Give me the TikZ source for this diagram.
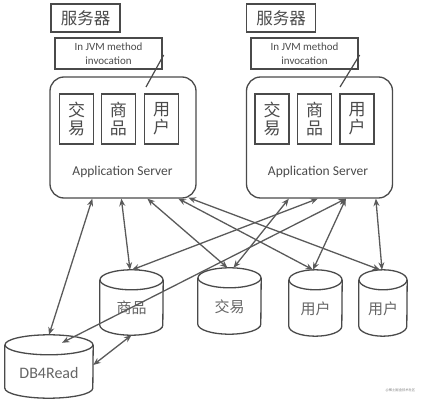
\documentclass[tikz,border=0pt]{standalone}
\usepackage{fontspec}
\setmainfont{Carlito}
\newfontfamily\cjk{Noto Sans CJK SC}
\usetikzlibrary{arrows.meta,calc}
\definecolor{ink}{HTML}{4A4A4A}
\definecolor{arr}{HTML}{5A5A5A}
\newcommand\cylout[3]{% name, rx, ry
  \draw[cylline] ($(#1.north west)+(0,-#3)$) -- ($(#1.south west)+(0,#3)$)
    arc[start angle=180,end angle=360,x radius=#2,y radius=#3]
    -- ($(#1.north east)+(0,-#3)$);
  \draw[cylline] ($(#1.north)+(0,-#3)$) ellipse[x radius=#2,y radius=#3];}
\newcommand\low[2]{\raisebox{#1}[0pt][0pt]{#2}}
\begin{document}
\begin{tikzpicture}[x=1pt,y=1pt,
  box/.style={draw=ink,line width=1.3pt,inner sep=0pt},
  lbl/.style={box,minimum width=69pt,minimum height=28pt,font=\cjk\fontsize{16.5}{16}\selectfont,text=ink},
  jvm/.style={box,minimum width=107pt,minimum height=31pt,font=\fontsize{11}{13.5}\selectfont,align=center,text=ink},
  srv/.style={box,rounded corners=14pt,minimum width=146pt,minimum height=121pt},
  mod/.style={box,minimum width=34pt,minimum height=50pt,font=\cjk\fontsize{17}{18}\selectfont,align=center,text=ink},
  cyl/.style={inner sep=0pt,font=\cjk\fontsize{15}{15}\selectfont,text=ink!85},
  cylline/.style={draw=ink,line width=1.3pt},
  link/.style={draw=arr,line width=1.3pt,{Stealth[length=7.5pt,width=6pt]}-{Stealth[length=7.5pt,width=6pt]}},
  tie/.style={draw=ink,line width=1.2pt}]
\useasboundingbox (0,0) rectangle (424,400);
% server labels
\node[lbl] (lblL) at (85.5,382) {服务器};
\node[lbl] (lblR) at (281,382) {服务器};
% server boxes
\node[srv] (srvL) at (123,262.5) {};
\node[srv] (srvR) at (319.5,262.5) {};
\node[font=\fontsize{13.5}{14}\selectfont,text=ink] (asL) at (122.5,228) {Application Server};
\node[font=\fontsize{13.5}{14}\selectfont,text=ink] (asR) at (318,228) {Application Server};
% JVM notes
\node[jvm] (jvmL) at (108.5,346.5) {In JVM method\\invocation};
\node[jvm] (jvmR) at (304.5,346.5) {In JVM method\\invocation};
\coordinate (tL) at (146,313);
\coordinate (tR) at (340,313);
\draw[tie] ([xshift=1pt,yshift=-1.5pt]jvmL.east) -- (tL);
\draw[tie] ([xshift=1pt,yshift=-1.5pt]jvmR.east) -- (tR);
% modules
\node[mod] (m1L) at (76.5,281) {交\\易};
\node[mod] (m2L) at (118.5,281) {商\\品};
\node[mod] (m3L) at (161.5,281) {用\\户};
\node[mod] (m1R) at (272,281) {交\\易};
\node[mod] (m2R) at (314.5,281) {商\\品};
\node[mod] (m3R) at (357,281) {用\\户};
% databases
\node[cyl,minimum width=63pt,minimum height=65pt] (dbG) at (131.5,97.5) {\low{-11pt}{商品}};
\node[cyl,minimum width=63pt,minimum height=66pt] (dbT) at (229.5,99) {\low{-11pt}{交易}};
\node[cyl,minimum width=53pt,minimum height=66pt] (dbU1) at (315.5,97) {\low{-11pt}{用户}};
\node[cyl,minimum width=48pt,minimum height=66pt] (dbU2) at (383,97) {\low{-11pt}{用户}};
\node[cyl,minimum width=88pt,minimum height=63pt,font=\fontsize{16}{16}\selectfont] (db) at (49,33.5) {\low{-11.5pt}{DB4Read}};
\cylout{dbG}{31.5}{10}
\cylout{dbT}{31.5}{10}
\cylout{dbU1}{26.5}{10}
\cylout{dbU2}{24}{10}
\cylout{db}{44}{10}
% connectors from left server
\draw[link] ([xshift=43pt]srvL.south west) -- (db.north);
\draw[link] ([xshift=72pt]srvL.south west) -- ([xshift=-1.5pt]dbG.north);
\draw[link] ([xshift=98pt]srvL.south west) -- ([xshift=-2pt]dbT.north);
\draw[link] ([xshift=129pt]srvL.south west) -- ([xshift=-2.5pt]dbU1.north);
\draw[link] ([xshift=139pt,yshift=1pt]srvL.south west) -- ([xshift=-3pt]dbU2.north);
% connectors from right server
\draw[link] ([xshift=43pt]srvR.south west) -- ([xshift=4pt]dbT.north);
\draw[link] ([xshift=72pt]srvR.south west) -- ([xshift=0.5pt]dbG.north);
\draw[link] ([xshift=100pt]srvR.south west) -- ([xshift=13pt,yshift=-8pt]db.north);
\draw[link] ([xshift=100pt]srvR.south west) -- ([xshift=-2.5pt]dbU1.north);
\draw[link] ([xshift=130pt]srvR.south west) -- ([xshift=-1pt]dbU2.north);
% DB4Read to goods
\draw[link] ([yshift=1.5pt]db.east) -- (dbG.south);
% watermark
\node[font=\cjk\fontsize{3.3}{3.3}\selectfont,text=gray] (wm) at (400.5,10) {@稀土掘金技术社区};
\end{tikzpicture}
\end{document}
